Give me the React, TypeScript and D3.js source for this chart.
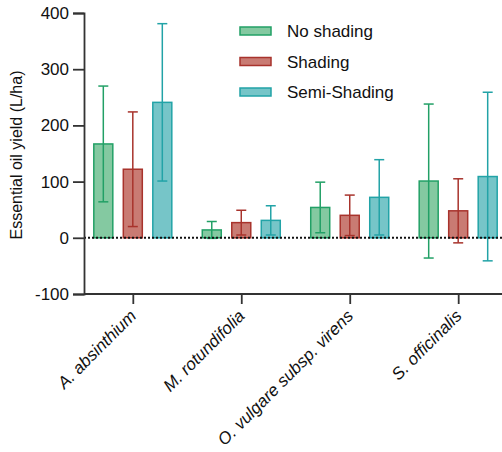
import React, { useEffect, useRef } from "react";
import * as d3 from "d3";

const categories = ["A. absinthium", "M. rotundifolia", "O. vulgare subsp. virens", "S. officinalis"];
const seriesNames = ["No shading", "Shading", "Semi-Shading"];
// mean values per series, one entry per category
const noShadingMean = [167, 14, 54, 101];
const shadingMean = [122, 27, 40, 48];
const semiShadingMean = [241, 31, 72, 109];
// standard deviations
const noShadingSd = [103, 15, 45, 137];
const shadingSd = [102, 22, 36, 57];
const semiShadingSd = [140, 26, 67, 150];
const yTicks = [-100, 0, 100, 200, 300, 400];

const fills = ["#84c9a1", "#c97b73", "#76c5c8"];
const strokes = ["#22a066", "#a8332c", "#22a3a7"];

export default function App() {
  const svgRef = useRef<SVGSVGElement | null>(null);

  useEffect(() => {
    if (!svgRef.current) return;
    const svg = d3.select(svgRef.current);
    svg.selectAll("*").remove();

    const means = [noShadingMean, shadingMean, semiShadingMean];
    const sds = [noShadingSd, shadingSd, semiShadingSd];

    const left = 84;
    const y = d3.scaleLinear().domain([-100, 400]).range([294, 13]);
    const x = d3.scalePoint<string>().domain(categories).range([left, 507]).padding(0.45);
    const offset = d3.scalePoint<number>().domain([0, 1, 2]).range([-29.5, 29.5]);
    const barW = 19;
    const font = "'Liberation Sans', Arial, sans-serif";

    // bars
    const g = svg.append("g");
    means.forEach((vals, s) => {
      vals.forEach((v, i) => {
        const cx = (x(categories[i]) as number) + (offset(s) as number);
        g.append("rect")
          .attr("x", cx - barW / 2)
          .attr("y", Math.min(y(v), y(0)))
          .attr("width", barW)
          .attr("height", Math.abs(y(0) - y(v)))
          .attr("fill", fills[s])
          .attr("stroke", strokes[s])
          .attr("stroke-width", 1.5);
        const lo = v - sds[s][i];
        const hi = v + sds[s][i];
        g.append("line")
          .attr("x1", cx).attr("x2", cx)
          .attr("y1", y(lo)).attr("y2", y(hi))
          .attr("stroke", strokes[s]).attr("stroke-width", 1.5);
        [lo, hi].forEach((e) => {
          g.append("line")
            .attr("x1", cx - 5).attr("x2", cx + 5)
            .attr("y1", y(e)).attr("y2", y(e))
            .attr("stroke", strokes[s]).attr("stroke-width", 1.5);
        });
      });
    });

    // zero line
    svg.append("line")
      .attr("x1", left).attr("x2", 502)
      .attr("y1", y(0)).attr("y2", y(0))
      .attr("stroke", "#111").attr("stroke-width", 2)
      .attr("stroke-dasharray", "2,2");

    // y axis
    const yAxis = svg.append("g")
      .attr("transform", `translate(${left},0)`)
      .call(d3.axisLeft(y).tickValues(yTicks).tickSize(11).tickPadding(4).tickFormat((d) => String(d)));
    yAxis.select(".domain").attr("stroke", "#333").attr("stroke-width", 1.8);
    yAxis.selectAll(".tick line").attr("stroke", "#333").attr("stroke-width", 1.8);
    yAxis.selectAll(".tick text")
      .attr("font-family", font).attr("font-size", 17).attr("fill", "#111");

    // x axis
    const xAxis = svg.append("g")
      .attr("transform", `translate(0,${y(-100)})`)
      .call(d3.axisBottom(x).tickSize(10).tickSizeOuter(0));
    xAxis.select(".domain").attr("d", `M${left},0H502`).attr("stroke", "#333").attr("stroke-width", 1.8);
    xAxis.selectAll(".tick line").attr("stroke", "#333").attr("stroke-width", 1.8);
    xAxis.selectAll(".tick text")
      .attr("font-family", font).attr("font-size", 17).attr("font-style", "italic").attr("fill", "#111")
      .attr("text-anchor", "end")
      .attr("dy", null)
      .attr("y", 0)
      .attr("transform", "translate(4,23) rotate(-45)");

    // y label
    svg.append("text")
      .attr("transform", `translate(22,${155}) rotate(-90)`)
      .attr("text-anchor", "middle")
      .attr("font-family", font).attr("font-size", 16).attr("fill", "#111")
      .text("Essential oil yield (L/ha)");

    // legend
    seriesNames.forEach((name, s) => {
      const cy = 31 + s * 30.5;
      svg.append("rect")
        .attr("x", 240).attr("y", cy - 4).attr("width", 31).attr("height", 8)
        .attr("fill", fills[s]).attr("stroke", strokes[s]).attr("stroke-width", 1.5);
      svg.append("text")
        .attr("x", 287).attr("y", cy + 6)
        .attr("font-family", font).attr("font-size", 17).attr("fill", "#111")
        .text(name);
    });
  }, []);

  return <svg ref={svgRef} width={502} height={452} style={{ position: "absolute", left: 0, top: 0, background: "#fff" }} />;
}
